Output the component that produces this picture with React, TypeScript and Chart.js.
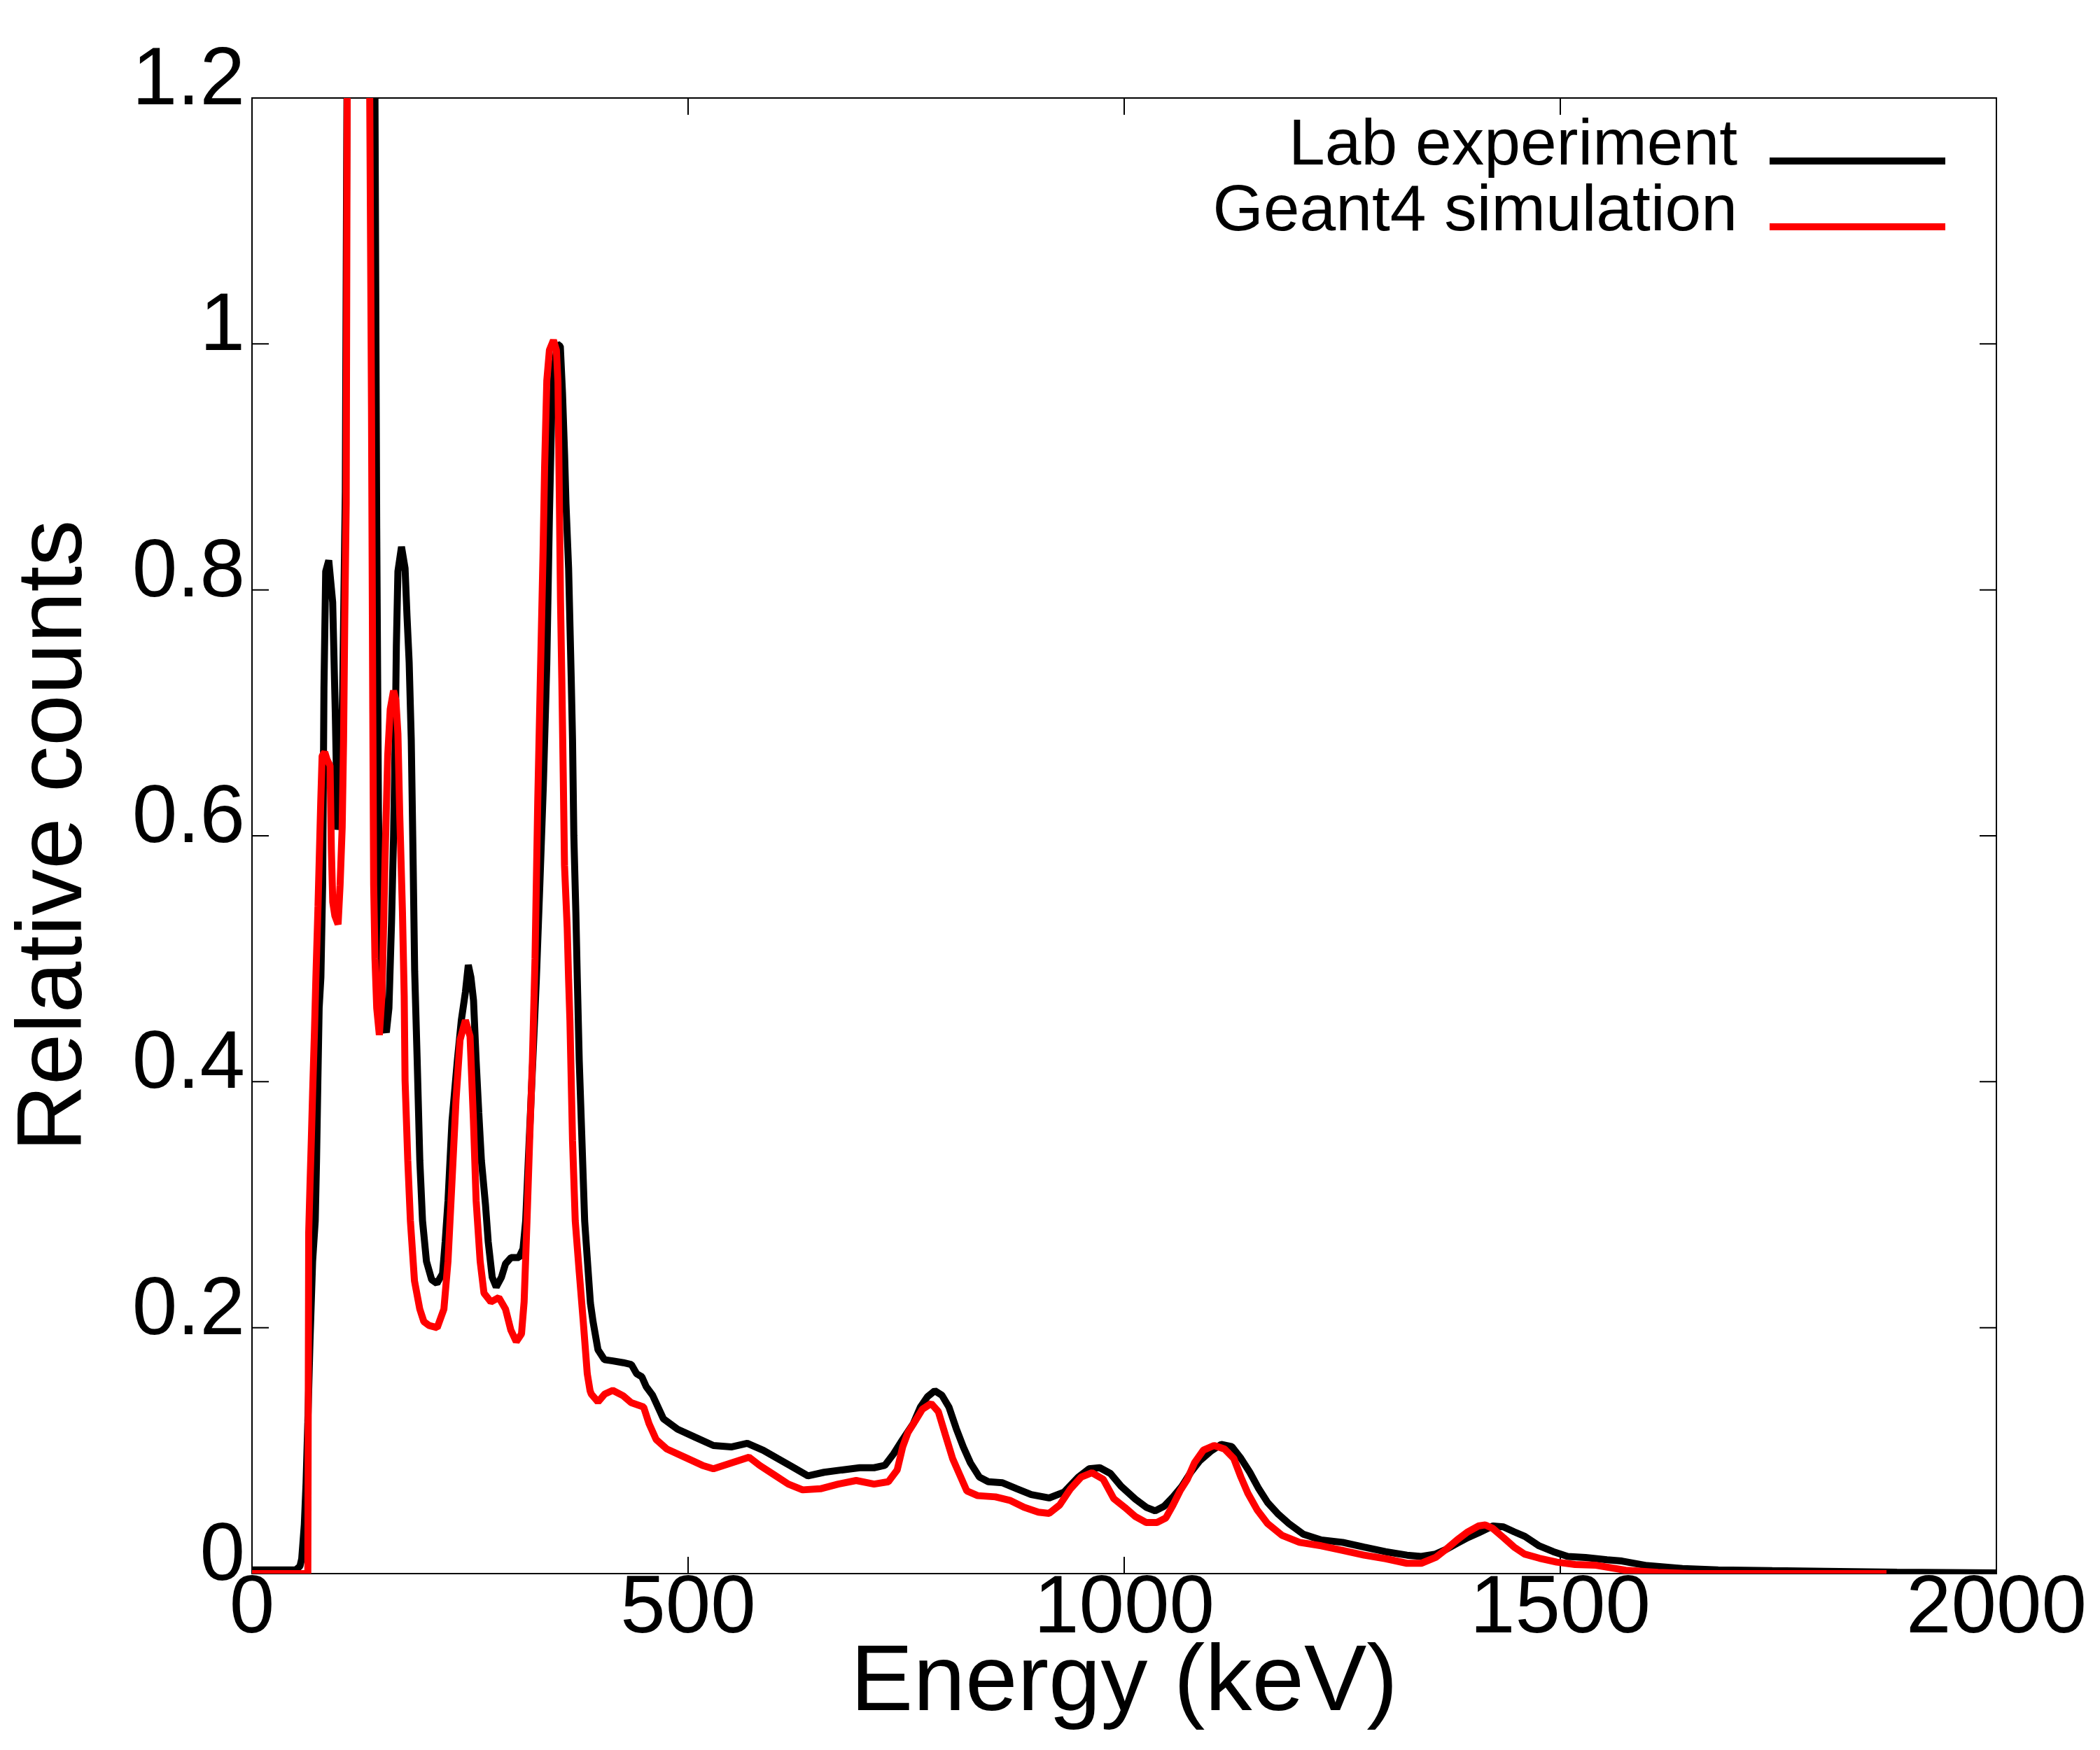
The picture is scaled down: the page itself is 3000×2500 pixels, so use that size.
import { useEffect, useRef } from "react";
import { Chart, registerables, Plugin } from "chart.js";

Chart.register(...registerables);

const FONT = '"Liberation Sans", Arial, sans-serif';

// Lab experiment (black)
const labEnergy = [
  0, 25, 50, 55, 57, 60, 62, 64, 66.5, 69.5, 72.5, 74, 75.5, 77, 79, 81, 82.5, 84.5, 88, 92.5,
  95.5, 98, 101, 104, 107, 110, 118, 128, 136, 141, 143, 145, 147, 150, 154, 157, 160, 162.3, 164.2, 165.5,
  167.3, 171.4, 175.5, 177.7, 180.2, 182.6, 184.8, 186.5, 189.4, 192.4, 195.5, 200, 206, 212, 218.5, 221.5, 224.7, 229.3, 235.4, 240,
  244.7, 248, 251, 254, 257, 260, 263, 267.7, 270.8, 275.4, 280, 286, 290.7, 297, 306, 310.7, 313.8, 316.8, 319.9, 323,
  326, 330, 334, 338, 341, 343.5, 346.5, 350, 353.5, 356, 358.4, 360, 363, 366, 367.5, 369, 371.3, 373, 375.2, 378.3,
  381.4, 385, 388, 391, 396.7, 404, 413.6, 425.8, 435, 441, 447, 452, 459.3, 471.6, 488, 508.4, 529, 549.4, 567.8, 586.2,
  602.4, 619, 637.4, 655.9, 676.3, 696.8, 713.2, 725.5, 735.7, 746, 758.2, 766.4, 774.6, 782.8, 791, 799, 807.4, 815.5, 823.7, 834,
  844.2, 860.6, 877, 893.4, 913.8, 931, 947.4, 959.6, 972, 984.2, 996.5, 1012.9, 1025.3, 1035.5, 1045.8, 1056, 1066.2, 1076.4, 1086.7, 1099,
  1111.2, 1123.5, 1133.8, 1144, 1154.3, 1164.5, 1176.8, 1189, 1205.4, 1226, 1250.5, 1275, 1299.6, 1324.2, 1340.6, 1357, 1369.2, 1381.5, 1393.9, 1406,
  1422.5, 1434.8, 1447, 1459.4, 1475.8, 1492, 1508.5, 1529, 1553.5, 1570.7, 1599.4, 1640, 1681, 1743, 1804, 1886, 2000,
];
const labCounts = [
  0.003, 0.003, 0.003, 0.006, 0.012, 0.04, 0.074, 0.123, 0.189, 0.254, 0.287, 0.336, 0.4, 0.46, 0.485, 0.56, 0.72, 0.815, 0.824, 0.79,
  0.7, 0.605, 0.62, 0.72, 0.88, 1.4, 2.2, 2.0, 1.5, 1.2, 0.85, 0.62, 0.52, 0.45, 0.44, 0.46, 0.53, 0.6, 0.678, 0.754,
  0.815, 0.835, 0.8175, 0.779, 0.741, 0.678, 0.576, 0.49, 0.417, 0.336, 0.287, 0.254, 0.239, 0.236, 0.244, 0.27, 0.303, 0.368, 0.417, 0.45,
  0.473, 0.495, 0.485, 0.466, 0.417, 0.375, 0.336, 0.3, 0.27, 0.241, 0.233, 0.241, 0.252, 0.257, 0.257, 0.264, 0.287, 0.336, 0.385, 0.434,
  0.483, 0.56, 0.64, 0.74, 0.86, 0.94, 0.98, 1.0, 0.998, 0.96, 0.91, 0.87, 0.8175, 0.728, 0.678, 0.6, 0.538, 0.483, 0.417, 0.352,
  0.287, 0.25, 0.22, 0.205, 0.182, 0.174, 0.173, 0.1715, 0.17, 0.1625, 0.16, 0.152, 0.145, 0.126, 0.1174, 0.1108, 0.1042, 0.103, 0.106, 0.1003,
  0.0937, 0.087, 0.0795, 0.0824, 0.0843, 0.0861, 0.0861, 0.088, 0.0975, 0.109, 0.122, 0.1355, 0.144, 0.1487, 0.145, 0.1355, 0.118, 0.103, 0.09, 0.0785,
  0.0747, 0.0738, 0.069, 0.0643, 0.0615, 0.0662, 0.0785, 0.0852, 0.0861, 0.0814, 0.071, 0.0605, 0.0539, 0.051, 0.0548, 0.0624, 0.071, 0.0824, 0.0918, 0.0994,
  0.1051, 0.1032, 0.0937, 0.0824, 0.069, 0.0577, 0.0482, 0.0406, 0.032, 0.0273, 0.0254, 0.0216, 0.0178, 0.015, 0.014, 0.0159, 0.0197, 0.0245, 0.0292, 0.033,
  0.0387, 0.038, 0.034, 0.0302, 0.0225, 0.0178, 0.014, 0.0131, 0.0112, 0.0102, 0.0065, 0.0042, 0.003, 0.0024, 0.0019, 0.0011, 0.0006,
];

// Geant4 simulation (red)
const simEnergy = [
  0, 64, 65, 66.5, 68, 69.5, 71.7, 73.2, 75.7, 78.8, 80.4, 83.4, 86, 89.5, 91, 92.6, 95, 98.7, 101, 103.4,
  105, 106.4, 108, 109.5, 116, 126, 133, 135, 137, 138.5, 139.5, 141, 143, 146, 149, 151, 152.5, 155.6, 158.5, 162.3,
  165, 167.3, 169.4, 172.5, 174.5, 175.5, 178.6, 181.6, 186.3, 192.4, 197, 203.2, 212.3, 220, 224.7, 229.3, 233.9, 238.5, 244.7, 250,
  253.9, 257, 261.6, 266, 273.9, 283, 290.7, 296.8, 303, 309, 312, 315.3, 318.3, 321.5, 324.5, 327.6, 330.6, 333.7, 335.5, 338,
  341, 345.6, 349, 350.8, 352.3, 353.7, 355.2, 356.8, 358.3, 361.4, 363, 364.5, 367.5, 370.6, 375.2, 379.8, 384.4, 387.6, 389, 396.7,
  404.4, 413.6, 425.8, 434.7, 449, 455.2, 463.4, 475.6, 496, 516.5, 529, 549.4, 569.8, 582, 598.5, 614.9, 631.3, 651.7, 672.2, 692.7,
  713.2, 729.6, 739.7, 746, 752, 760.3, 768.5, 778.7, 786.9, 795, 803.2, 811.4, 819.6, 832, 852.4, 868.8, 885.2, 901.6, 914, 926,
  938.5, 950.7, 963, 976, 988, 1000.6, 1013, 1025, 1037.5, 1047.8, 1056, 1064, 1072.4, 1080.5, 1090.8, 1103, 1115, 1125.6, 1133.8, 1141.8,
  1152.3, 1164.5, 1181, 1201, 1226, 1250.5, 1275, 1300, 1324, 1340.6, 1357, 1369, 1381.5, 1394, 1406, 1414, 1422.5, 1435, 1447, 1459,
  1476, 1496, 1517, 1541, 1575, 1612, 1650, 1874,
];
const simCounts = [
  0, 0, 0.277, 0.316, 0.352, 0.391, 0.443, 0.483, 0.543, 0.627, 0.665, 0.668, 0.662, 0.657, 0.589, 0.546, 0.535, 0.528, 0.56, 0.607,
  0.678, 0.779, 0.87, 1.3, 2.3, 2.2, 1.5, 1.2, 0.95, 0.7, 0.56, 0.5, 0.46, 0.438, 0.47, 0.53, 0.58, 0.665, 0.703, 0.718,
  0.71, 0.683, 0.617, 0.538, 0.47, 0.401, 0.336, 0.287, 0.238, 0.215, 0.205, 0.2017, 0.2, 0.215, 0.254, 0.319, 0.385, 0.434, 0.45, 0.437,
  0.368, 0.303, 0.254, 0.228, 0.221, 0.2245, 0.215, 0.198, 0.1886, 0.195, 0.221, 0.287, 0.352, 0.417, 0.5, 0.627, 0.728, 0.83, 0.9, 0.97,
  0.995, 1.003, 0.995, 0.969, 0.88, 0.792, 0.728, 0.652, 0.576, 0.525, 0.483, 0.45, 0.352, 0.287, 0.245, 0.205, 0.1625, 0.1487, 0.146, 0.1396,
  0.146, 0.149, 0.1445, 0.139, 0.1355, 0.122, 0.109, 0.1013, 0.0947, 0.088, 0.0852, 0.09, 0.0947, 0.088, 0.0804, 0.0728, 0.0681, 0.069, 0.0728, 0.0757,
  0.0728, 0.0747, 0.0842, 0.103, 0.1146, 0.124, 0.1336, 0.1383, 0.1317, 0.1127, 0.0937, 0.0804, 0.0672, 0.0634, 0.0624, 0.0596, 0.0539, 0.05, 0.049, 0.0558,
  0.069, 0.0785, 0.082, 0.0767, 0.061, 0.0539, 0.0463, 0.0416, 0.0416, 0.0453, 0.0558, 0.0672, 0.0767, 0.09, 0.1004, 0.1042, 0.1013, 0.0937, 0.0785, 0.0653,
  0.052, 0.0406, 0.0311, 0.0254, 0.0226, 0.0188, 0.015, 0.0121, 0.0084, 0.0084, 0.0131, 0.0197, 0.0273, 0.034, 0.0387, 0.0396, 0.0368, 0.0292, 0.0216, 0.0159,
  0.0125, 0.0093, 0.0074, 0.0068, 0.0027, 0.001, 0, 0,
];

const xTickValues = [0, 500, 1000, 1500, 2000];
const yTickValues = [0, 0.2, 0.4, 0.6, 0.8, 1, 1.2];
const seriesNames = ["Lab experiment", "Geant4 simulation"];
const seriesColors = ["#000000", "#ff0000"];

// box round the plot with short inward ticks on all four sides
const framePlugin: Plugin<"line"> = {
  id: "frame",
  beforeDatasetsDraw(chart) {
    const { ctx, chartArea: a, scales } = chart;
    const len = 24;
    ctx.save();
    ctx.strokeStyle = "#000";
    ctx.lineWidth = 2;
    ctx.strokeRect(a.left, a.top, a.right - a.left, a.bottom - a.top);
    ctx.beginPath();
    for (const v of xTickValues) {
      const px = scales.x.getPixelForValue(v);
      ctx.moveTo(px, a.bottom);
      ctx.lineTo(px, a.bottom - len);
      ctx.moveTo(px, a.top);
      ctx.lineTo(px, a.top + len);
    }
    for (const v of yTickValues) {
      const py = scales.y.getPixelForValue(v);
      ctx.moveTo(a.left, py);
      ctx.lineTo(a.left + len, py);
      ctx.moveTo(a.right, py);
      ctx.lineTo(a.right - len, py);
    }
    ctx.stroke();
    ctx.restore();
  },
};

// legend in the top right corner: text first, then the line sample
const legendPlugin: Plugin<"line"> = {
  id: "cornerLegend",
  afterDraw(chart) {
    const { ctx, chartArea: a } = chart;
    const lineEnd = a.right - 73;
    const lineStart = lineEnd - 251;
    ctx.save();
    ctx.font = `93px ${FONT}`;
    ctx.textAlign = "right";
    ctx.textBaseline = "alphabetic";
    ctx.fillStyle = "#000";
    seriesNames.forEach((name, i) => {
      const base = a.top + 95 + i * 94;
      ctx.fillText(name, lineStart - 46, base);
      ctx.strokeStyle = seriesColors[i];
      ctx.lineWidth = 10;
      ctx.beginPath();
      ctx.moveTo(lineStart, base - 5);
      ctx.lineTo(lineEnd, base - 5);
      ctx.stroke();
    });
    ctx.restore();
  },
};

export default function App() {
  const chartRef = useRef<HTMLCanvasElement | null>(null);
  const chartInstance = useRef<Chart | null>(null);

  useEffect(() => {
    document.body.style.margin = "0";
    if (!chartRef.current) return;

    if (chartInstance.current) {
      chartInstance.current.destroy();
    }

    chartInstance.current = new Chart(chartRef.current, {
      type: "line",
      data: {
        datasets: [
          {
            label: seriesNames[0],
            data: labEnergy.map((x, i) => ({ x, y: labCounts[i] })),
            borderColor: seriesColors[0],
            borderWidth: 10,
            borderJoinStyle: "bevel",
            pointRadius: 0,
            tension: 0,
            order: 2,
          },
          {
            label: seriesNames[1],
            data: simEnergy.map((x, i) => ({ x, y: simCounts[i] })),
            borderColor: seriesColors[1],
            borderWidth: 10,
            borderJoinStyle: "bevel",
            pointRadius: 0,
            tension: 0,
            order: 1,
          },
        ],
      },
      options: {
        animation: false,
        responsive: true,
        maintainAspectRatio: false,
        devicePixelRatio: 1,
        layout: { padding: { top: 140, right: 148, bottom: 0, left: 0 } },
        plugins: {
          legend: { display: false },
          tooltip: { enabled: false },
        },
        scales: {
          x: {
            type: "linear",
            min: 0,
            max: 2000,
            grid: { display: false, drawTicks: false },
            border: { display: false },
            afterBuildTicks: (axis) => {
              axis.ticks = xTickValues.map((value) => ({ value }));
            },
            afterFit: (axis) => {
              axis.height = 252;
            },
            ticks: {
              autoSkip: false,
              maxRotation: 0,
              padding: 0,
              color: "#000",
              font: { family: FONT, size: 116, lineHeight: 0.9 },
              callback: (v) => String(v),
            },
            title: {
              display: true,
              text: "Energy (keV)",
              color: "#000",
              font: { family: FONT, size: 134 },
              padding: { top: 0, bottom: 14 },
            },
          },
          y: {
            type: "linear",
            min: 0,
            max: 1.2,
            grid: { display: false, drawTicks: false },
            border: { display: false },
            afterBuildTicks: (axis) => {
              axis.ticks = yTickValues.map((value) => ({ value }));
            },
            afterFit: (axis) => {
              axis.width = 360;
            },
            ticks: {
              autoSkip: false,
              padding: 10,
              labelOffset: -23,
              color: "#000",
              font: { family: FONT, size: 116 },
              callback: (v) => String(Math.round(Number(v) * 10) / 10),
            },
            title: {
              display: true,
              text: "Relative counts",
              color: "#000",
              font: { family: FONT, size: 132 },
              padding: { top: 0, bottom: 0 },
            },
          },
        },
      },
      plugins: [framePlugin, legendPlugin],
    });

    return () => {
      if (chartInstance.current) {
        chartInstance.current.destroy();
        chartInstance.current = null;
      }
    };
  }, []);

  return (
    <div style={{ width: 3000, height: 2500, background: "#fff" }}>
      <canvas ref={chartRef} />
    </div>
  );
}
